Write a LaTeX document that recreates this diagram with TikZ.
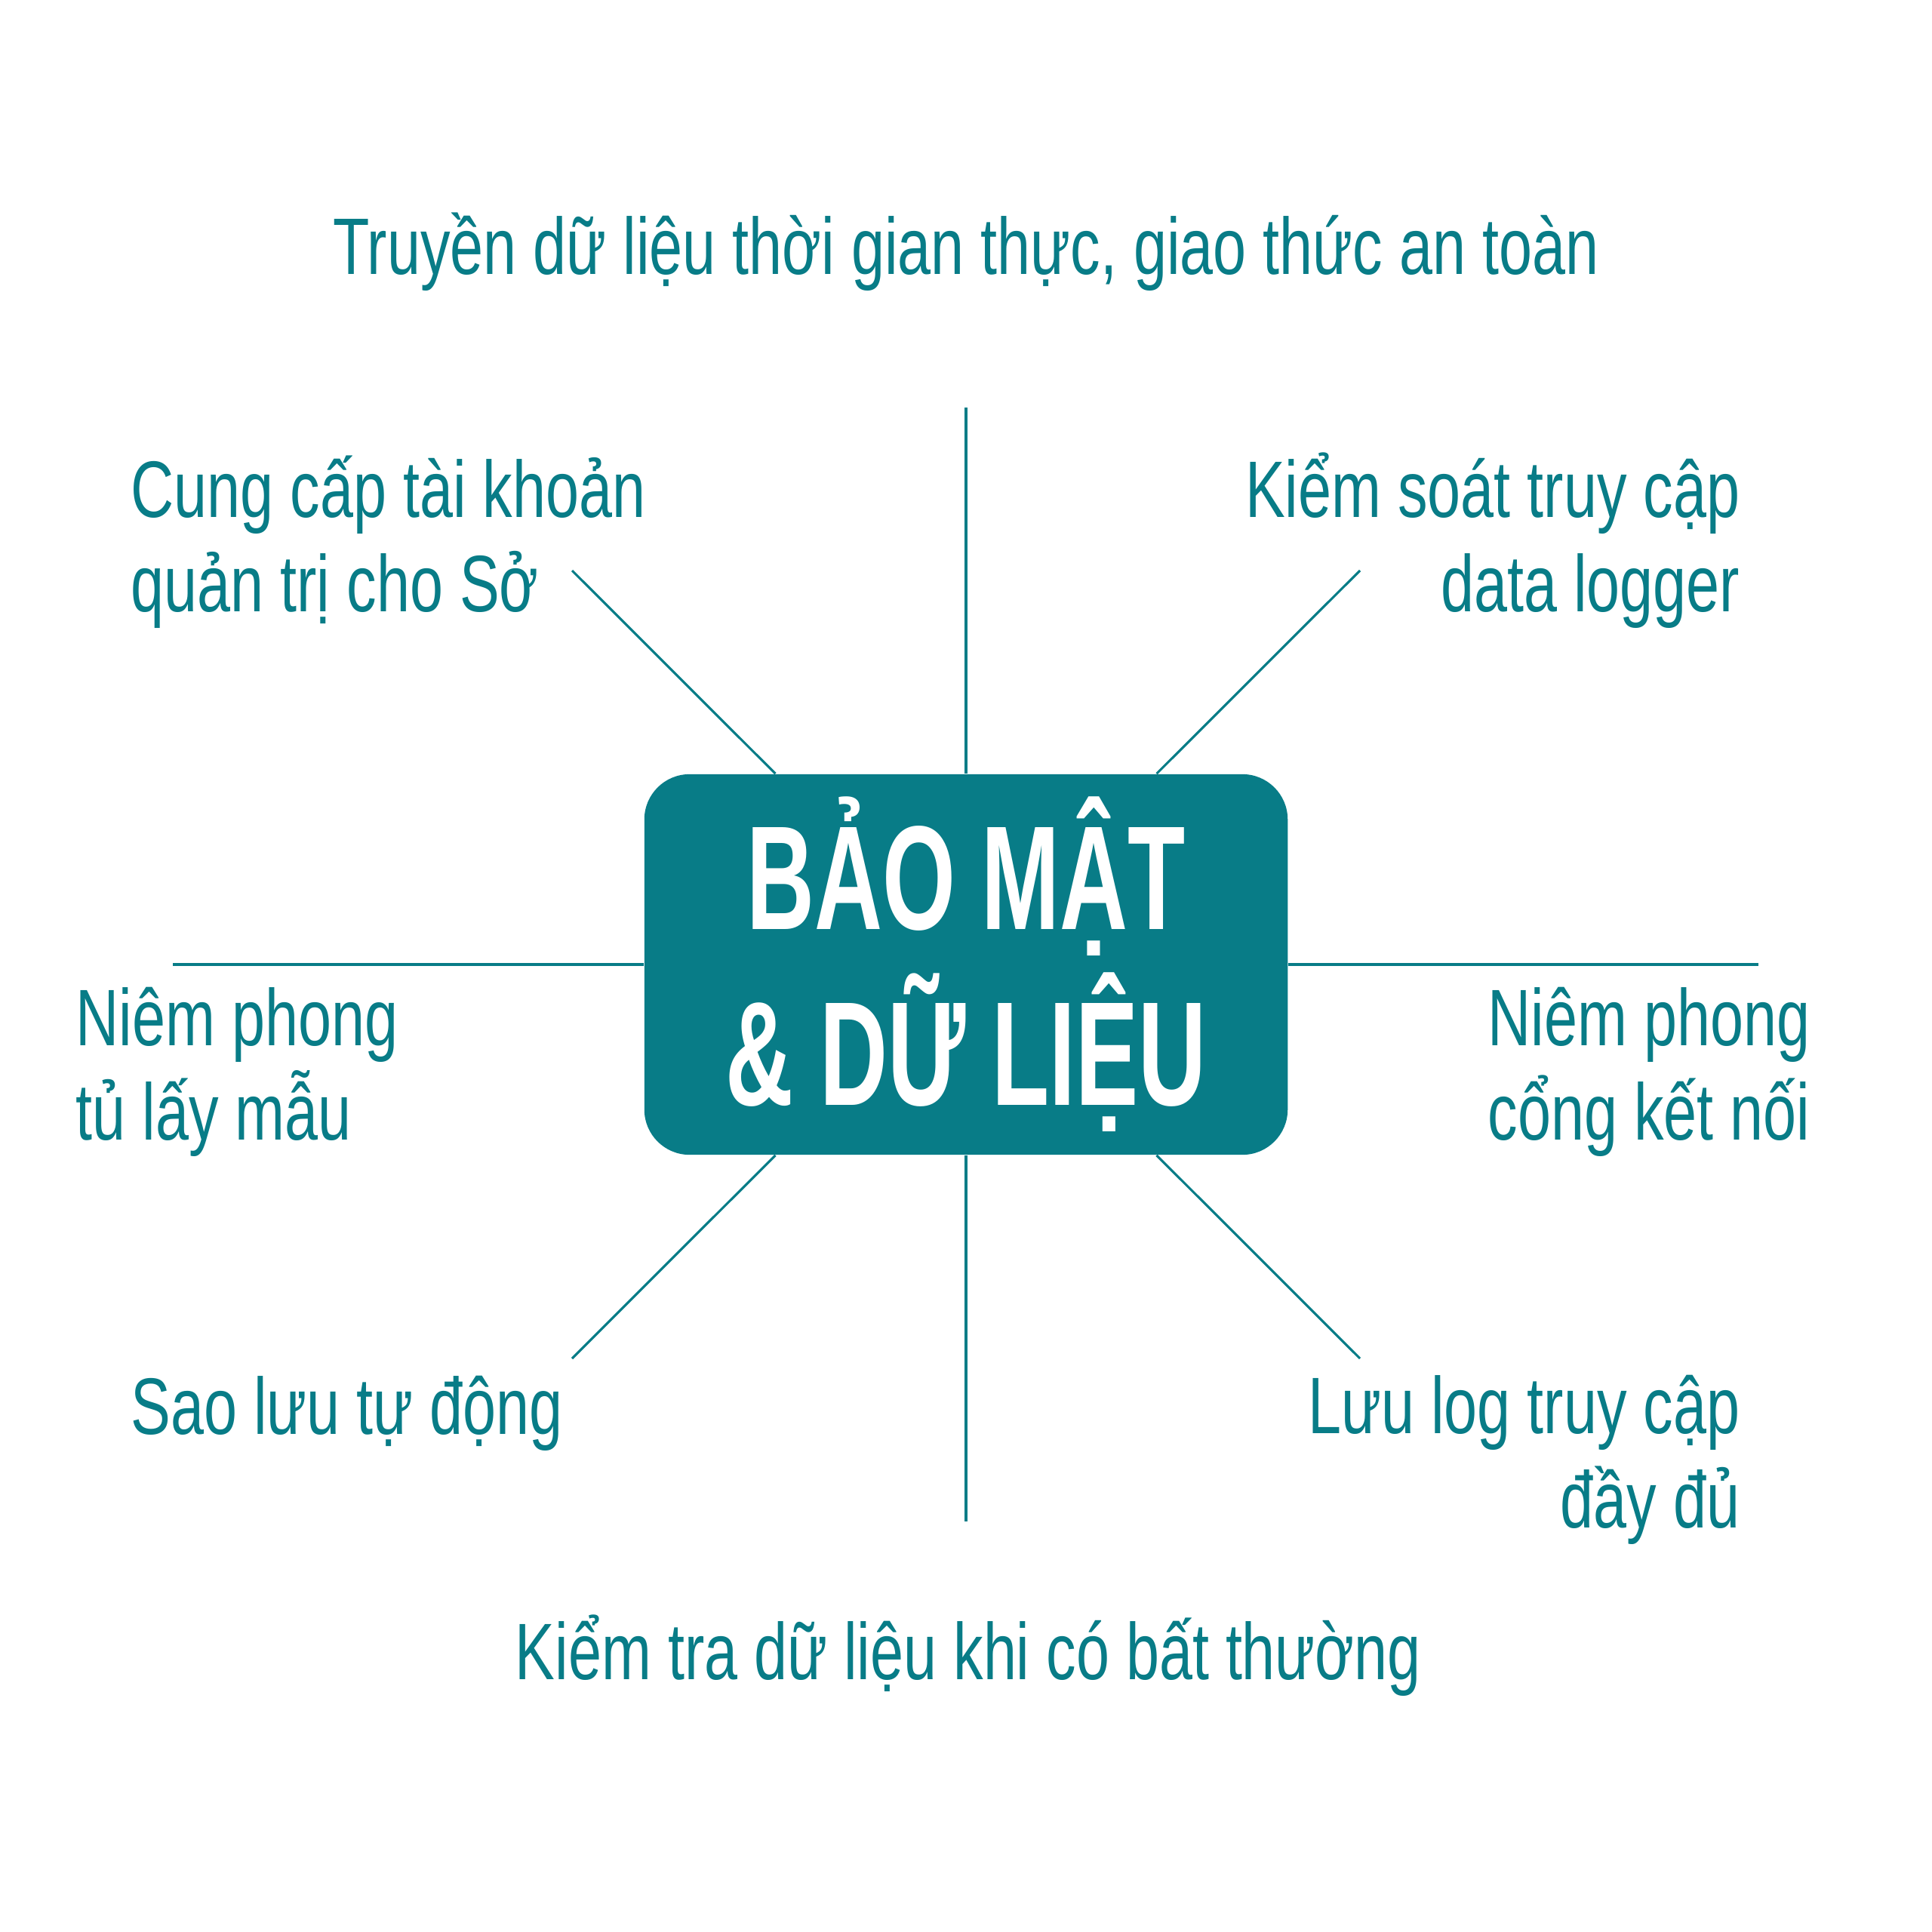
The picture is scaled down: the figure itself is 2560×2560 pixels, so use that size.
\documentclass[tikz,border=0pt]{standalone}
\usepackage{fontspec}
\newfontfamily\bodyfont[FakeStretch=0.745]{Liberation Sans}
\newfontfamily\titlefont[FakeStretch=0.635]{Liberation Sans}
\definecolor{tealmain}{RGB}{8,124,135}

\begin{document}
\begin{tikzpicture}[
    x=0.01cm, y=-0.01cm,
    core/.style={rectangle, rounded corners=0.6cm, fill=tealmain, text=white, minimum width=8.52cm, minimum height=5.04cm, inner sep=0pt, align=center, font=\titlefont\bfseries\fontsize{55.8}{66.2}\selectfont},
    item/.style={text=tealmain, inner sep=0pt, font=\bodyfont\fontsize{30.2}{35.3}\selectfont},
    spoke/.style={draw=tealmain, line width=0.9pt}
]
    \useasboundingbox (0,0) rectangle (2560,2560);

    % Centre box
    \node[core] (core) at (1280,1278) {BẢO MẬT\\\& DỮ LIỆU};

    % Spoke ends
    \coordinate (endN) at (1280,540);
    \coordinate (endS) at (1280,2016);
    \coordinate (endW) at (229,1278);
    \coordinate (endE) at (2330,1278);
    \coordinate (endNW) at (758,756);
    \coordinate (endNE) at (1802,756);
    \coordinate (endSW) at (758,1800);
    \coordinate (endSE) at (1802,1800);

    % Spokes
    \foreach \e in {endN,endS,endW,endE,endNW,endNE,endSW,endSE}
        \draw[spoke] (core) -- (\e);

    % Labels (base = last line)
    \node[item, anchor=base] (stream) at (1280,363) {Truyền dữ liệu thời gian thực, giao thức an toàn};
    \node[item, anchor=base west, align=left] (account) at (173,810) {Cung cấp tài khoản\\quản trị cho Sở};
    \node[item, anchor=base east, align=right] (access) at (2306,810) {Kiểm soát truy cập\\data logger};
    \node[item, anchor=base west, align=left] (cabinet) at (100,1510) {Niêm phong\\tủ lấy mẫu};
    \node[item, anchor=base east, align=right] (port) at (2399,1510) {Niêm phong\\cổng kết nối};
    \node[item, anchor=base west] (backup) at (173,1900) {Sao lưu tự động};
    \node[item, anchor=base east, align=right] (log) at (2306,2024) {Lưu log truy cập\\đầy đủ};
    \node[item, anchor=base] (check) at (1283,2225) {Kiểm tra dữ liệu khi có bất thường};
\end{tikzpicture}
\end{document}
